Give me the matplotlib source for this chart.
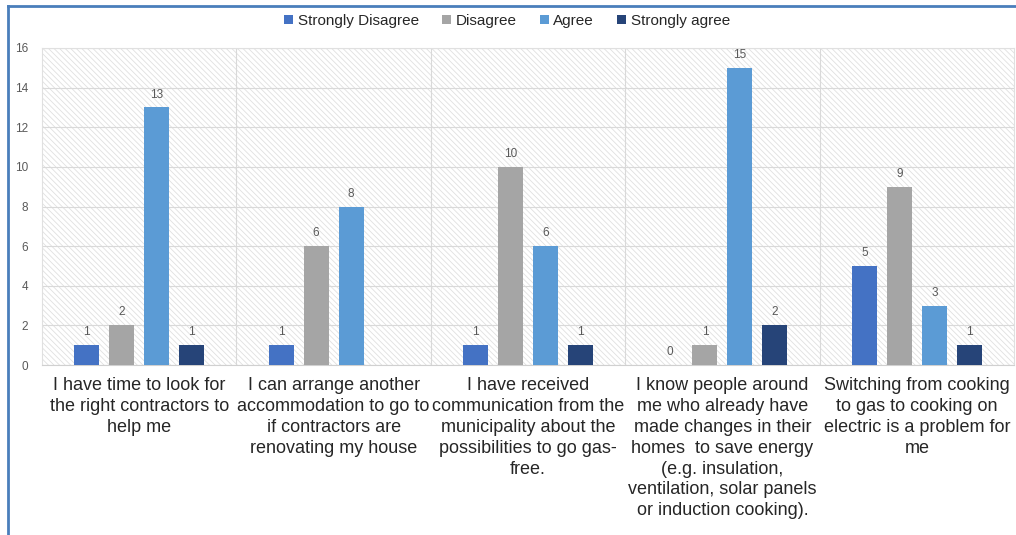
import numpy as np
import matplotlib.pyplot as plt
from matplotlib.lines import Line2D
from matplotlib.patches import Rectangle

plt.rcParams['font.family'] = ['Liberation Sans', 'DejaVu Sans']
plt.rcParams['hatch.linewidth'] = 0.6
plt.rcParams['hatch.color'] = '#e0e0e0'

categories = [
    "I have time to look for\nthe right contractors to\nhelp me",
    "I can arrange another\naccommodation to go to\nif contractors are\nrenovating my house",
    "I have received\ncommunication from the\nmunicipality about the\npossibilities to go gas-\nfree.",
    "I know people around\nme who already have\nmade changes in their\nhomes  to save energy\n(e.g. insulation,\nventilation, solar panels\nor induction cooking).",
    "Switching from cooking\nto gas to cooking on\nelectric is a problem for\nme",
]
series_names = ["Strongly Disagree", "Disagree", "Agree", "Strongly agree"]
strongly_disagree = [1, 1, 1, 0, 5]
disagree = [2, 6, 10, 1, 9]
agree = [13, 8, 6, 15, 3]
strongly_agree = [1, np.nan, 1, 2, 1]
colors = ['#4472C4', '#A5A5A5', '#5B9BD5', '#264478']

W, H = 1016, 535
fig = plt.figure(figsize=(W / 100, H / 100), dpi=100)
ax = fig.add_axes([42 / W, 1 - 365 / H, (1014 - 42) / W, (365 - 48) / H])

x = np.arange(len(categories))
width = 0.128
step = 0.18
all_series = [strongly_disagree, disagree, agree, strongly_agree]

ax.set_xlim(-0.5, len(categories) - 0.5)
ax.set_ylim(0, 16)

# hatched plot-area background
ax.add_patch(Rectangle((0, 0), 1, 1, transform=ax.transAxes, facecolor='white',
                       hatch='\\\\\\\\\\\\', edgecolor='#e0e0e0', linewidth=0,
                       zorder=0))

for i, (vals, name, c) in enumerate(zip(all_series, series_names, colors)):
    pos = x + (i - 1.5) * step
    ax.bar(pos, vals, width, color=c, label=name, zorder=3)
    for p, v in zip(pos, vals):
        if np.isnan(v):
            continue
        ax.text(p, v + 0.35, f"{int(v)}", ha='center', va='bottom',
                fontsize=8.5, color='#595959', zorder=4)

ax.set_yticks(np.arange(0, 17, 2))
ax.yaxis.grid(True, color='#d9d9d9', linewidth=0.8, zorder=1)
for b in np.arange(0.5, len(categories) - 0.5, 1):
    ax.axvline(b, color='#d9d9d9', linewidth=0.8, zorder=1)

ax.set_xticks(x)
ax.set_xticklabels(categories, fontsize=13, color='#262626', linespacing=1.29)
ax.tick_params(axis='x', length=0, pad=9)
ax.tick_params(axis='y', length=0, labelsize=8.5, labelcolor='#595959', pad=10)
for s in ['top', 'right', 'left']:
    ax.spines[s].set_color('#e0e0e0')
ax.spines['bottom'].set_color('#d0d0d0')

fig.legend(loc='center', bbox_to_anchor=(507 / W, 1 - 21 / H), ncol=4,
           frameon=False, fontsize=11, handlelength=0.6, handleheight=0.6,
           handletextpad=0.3, columnspacing=1.5, labelcolor='#262626')

# blue frame round the picture
fig.add_artist(Line2D([8 / W, 1.0], [1 - 6 / H, 1 - 6 / H], transform=fig.transFigure,
                      color='#4a7ebb', linewidth=2))
fig.add_artist(Line2D([8 / W, 8 / W], [0, 1 - 6 / H], transform=fig.transFigure,
                      color='#4a7ebb', linewidth=2))

fig.savefig('out.png', dpi=100)
